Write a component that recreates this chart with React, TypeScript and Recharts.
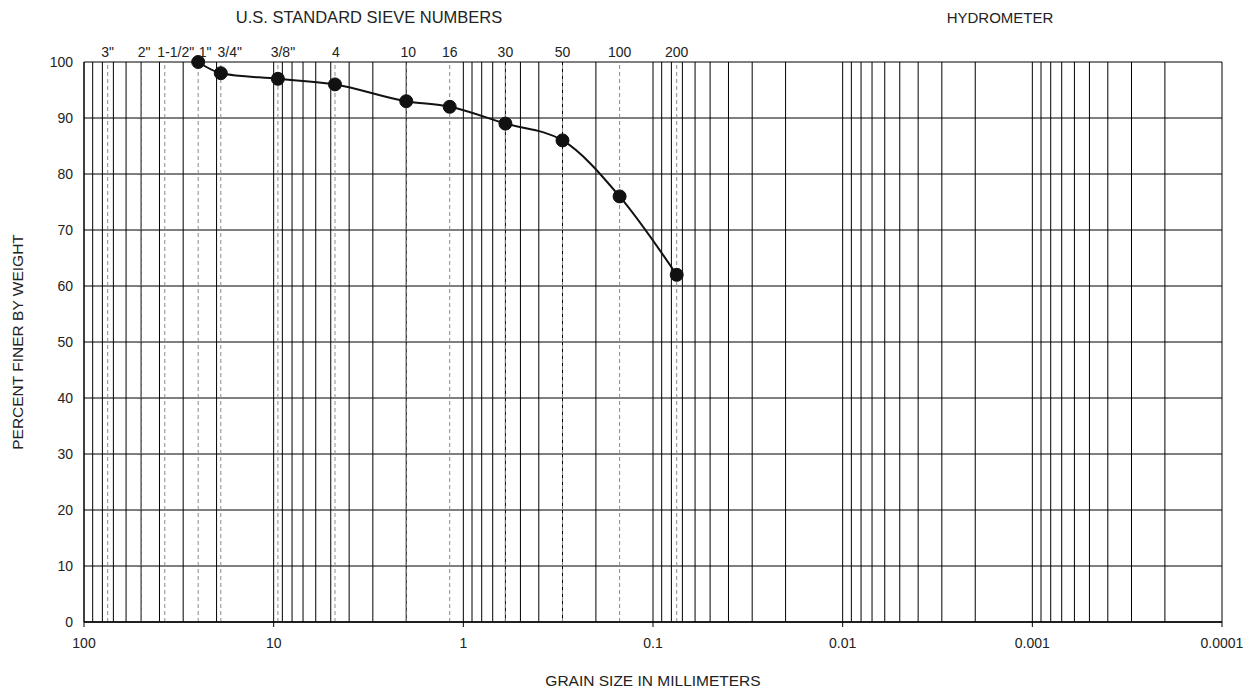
import React from 'react';
import { ComposedChart, Line, XAxis, YAxis, CartesianGrid, ReferenceLine } from 'recharts';

// grain size axis (mm), plotted on a reversed log scale
const sizeTicks = [100, 10, 1, 0.1, 0.01, 0.001, 0.0001];
const decadeStarts = [10, 1, 0.1, 0.01, 0.001, 0.0001];
const decadeSteps = [1, 2, 3, 4, 5, 6, 7, 8, 9];

// U.S. standard sieve openings (mm) and their names
const sieveSizes = [75, 50, 37.5, 25, 19, 9.5, 4.75, 2.0, 1.18, 0.6, 0.3, 0.15, 0.075];
const sieveLabels = ['3"', '2"', '1-1/2"', '1"', '3/4"', '3/8"', '4', '10', '16', '30', '50', '100', '200'];

// gradation test results
const gradSizes = [25, 19, 9.5, 4.75, 2.0, 1.18, 0.6, 0.3, 0.15, 0.075];
const percentFiner = [100, 98, 97, 96, 93, 92, 89, 86, 76, 62];

const percentTicks = [0, 10, 20, 30, 40, 50, 60, 70, 80, 90, 100];

const FONT = '"Liberation Sans", Arial, sans-serif';
const INK = '#222';

const gradation = gradSizes.map((size, i) => ({ size, pct: percentFiner[i] }));
const gridSizes = decadeStarts.flatMap((d) => decadeSteps.map((m) => m * d));

// the coarse sieve names are crowded, so they sit a little right of their lines
const labelNudge = (label: string) => {
  switch (label) {
    case '2"': return 3;
    case '1-1/2"': return 11;
    case '1"': return 7;
    case '3/4"': return 9;
    case '3/8"': return 5;
    case '4': return 1;
    case '10': return 2;
    default: return 0;
  }
};

export default function App() {
  return (
    <div style={{ position: 'absolute', left: 0, top: 0, width: 1254, height: 694, background: '#fff' }}>
      <ComposedChart
        width={1254}
        height={694}
        data={gradation}
        margin={{ top: 62, right: 32, left: 0, bottom: 0 }}
      >
        <CartesianGrid xAxisId="x" vertical={false} stroke="#000" strokeWidth={1} />
        <XAxis
          xAxisId="x"
          dataKey="size"
          type="number"
          scale="log"
          domain={[0.0001, 100]}
          reversed
          allowDataOverflow
          ticks={sizeTicks}
          interval={0}
          tickFormatter={(v: number) => String(v)}
          height={72}
          tickSize={5}
          tickMargin={11}
          axisLine={{ stroke: '#000', strokeWidth: 1.5 }}
          tickLine={{ stroke: '#000' }}
          tick={{ fontSize: 14, fontFamily: FONT, fill: INK }}
        />
        <YAxis
          type="number"
          domain={[0, 100]}
          ticks={percentTicks}
          interval={0}
          width={84}
          tickSize={6}
          tickMargin={5}
          tickLine={false}
          axisLine={{ stroke: '#000', strokeWidth: 1.5 }}
          tick={{ fontSize: 14, fontFamily: FONT, fill: INK }}
        />
        {gridSizes.map((s) => (
          <ReferenceLine key={'g' + s} xAxisId="x" x={s} stroke="#000" strokeWidth={1} />
        ))}
        {sieveSizes.map((s, i) => (
          <ReferenceLine
            key={'s' + s}
            xAxisId="x"
            x={s}
            stroke="#8a8a8a"
            strokeWidth={1}
            strokeDasharray="4 3"
            label={{
              value: sieveLabels[i],
              position: 'top',
              offset: 5,
              dx: labelNudge(sieveLabels[i]),
              fontSize: 14,
              fontFamily: FONT,
              fill: INK,
            }}
          />
        ))}
        <Line
          xAxisId="x"
          dataKey="pct"
          type="monotone"
          stroke="#111"
          strokeWidth={2}
          dot={{ r: 6.5, fill: '#111', stroke: '#111', strokeWidth: 1 }}
          isAnimationActive={false}
        />
      </ComposedChart>
      <svg
        width={1254}
        height={694}
        style={{ position: 'absolute', left: 0, top: 0, pointerEvents: 'none' }}
        fontFamily={FONT}
        fill={INK}
      >
        <text x={369} y={23} textAnchor="middle" fontSize={16.5}>U.S. STANDARD SIEVE NUMBERS</text>
        <text x={1000} y={23} textAnchor="middle" fontSize={15}>HYDROMETER</text>
        <text x={653} y={686} textAnchor="middle" fontSize={15.5}>GRAIN SIZE IN MILLIMETERS</text>
        <text x={23} y={342} textAnchor="middle" fontSize={15.5} transform="rotate(-90, 23, 342)">
          PERCENT FINER BY WEIGHT
        </text>
      </svg>
    </div>
  );
}
